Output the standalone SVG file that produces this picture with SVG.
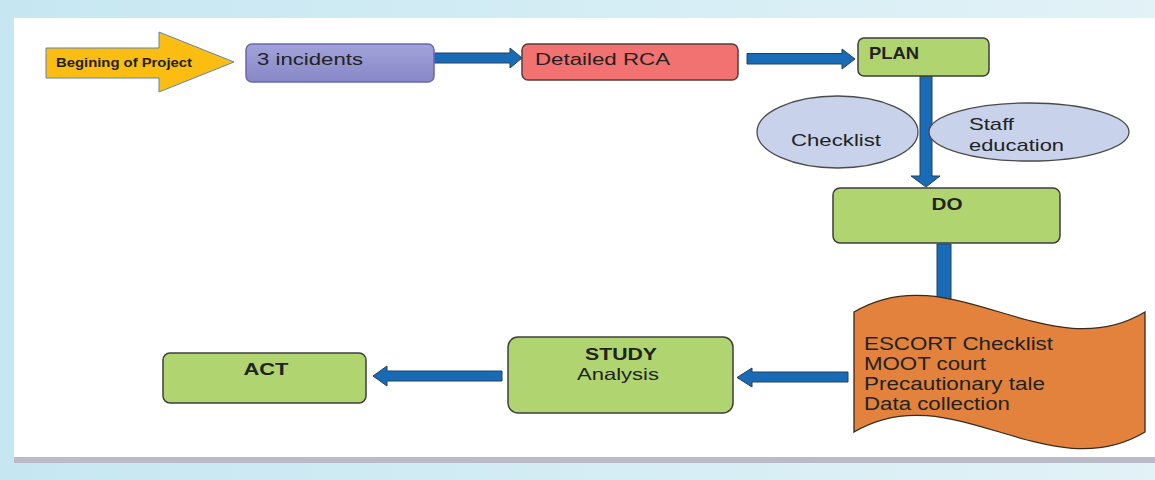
<svg xmlns="http://www.w3.org/2000/svg" width="1155" height="480" viewBox="0 0 1155 480">
  <defs>
    <linearGradient id="bgBlue" x1="0" y1="0" x2="1" y2="0">
      <stop offset="0" stop-color="#c6e7f2"/>
      <stop offset="1" stop-color="#e2f2f7"/>
    </linearGradient>
    <linearGradient id="purple" x1="0" y1="0" x2="0" y2="1">
      <stop offset="0" stop-color="#a2a2da"/>
      <stop offset="1" stop-color="#8787c6"/>
    </linearGradient>
    <style>
      .box { stroke-width: 1.5; }
      .green { fill: #b0d46f; stroke: #3e3e3e; }
      .oval { fill: #c8d3eb; stroke: #4a4a4a; stroke-width: 1.3; }
      .arrow { fill: #1a6bb6; stroke: #22405f; stroke-width: 1; stroke-linejoin: miter; }
      .t { font-family: "Liberation Sans", Arial, sans-serif; fill: #222222; }
      .b { font-weight: bold; }
    </style>
  </defs>

  <!-- slide backdrop -->
  <rect x="0" y="0" width="1155" height="480" fill="url(#bgBlue)"/>
  <rect x="14" y="18" width="1141" height="439" fill="#ffffff"/>
  <rect x="14" y="457" width="1141" height="6" fill="#b9bbc7"/>

  <!-- connectors -->
  <g id="connectors">
    <path class="arrow" d="M433,53 H510 V48 L522,58 L510,68 V63 H433 Z"/>
    <path class="arrow" d="M747,53.5 H842 V49 L855,59 L842,69 V64 H747 Z"/>
    <path class="arrow" d="M920,76 H932 V176 H940 L926,187 L911,176 H920 Z"/>
    <path class="arrow" d="M937,244 H951 V300 H937 Z"/>
    <path class="arrow" d="M848,372 H752 V368 L737,377.5 L752,387 V382 H848 Z"/>
    <path class="arrow" d="M502,371 H387 V366 L373,376 L387,386 V381 H502 Z"/>
  </g>

  <!-- start marker -->
  <g id="start">
    <path d="M46,48 H159 V32 L234,62 L159,92 V78 H46 Z" fill="#fcbd13" stroke="#5a86b8" stroke-width="1"/>
    <text class="t b" x="56" y="67" font-size="13" textLength="136" lengthAdjust="spacingAndGlyphs">Begining of Project</text>
  </g>

  <g id="incidents">
    <rect class="box" x="246" y="44" width="188" height="38" rx="6" fill="url(#purple)" stroke="#6767b2"/>
    <text class="t" x="257" y="65" font-size="16" textLength="106" lengthAdjust="spacingAndGlyphs">3 incidents</text>
  </g>

  <g id="rca">
    <rect class="box" x="522" y="44" width="216" height="36" rx="6" fill="#f27272" stroke="#5a3a3a"/>
    <text class="t" x="535" y="65" font-size="16" textLength="135" lengthAdjust="spacingAndGlyphs">Detailed RCA</text>
  </g>

  <g id="plan">
    <rect class="box green" x="858" y="38" width="131" height="38" rx="6"/>
    <text class="t b" x="869" y="59" font-size="16.5" textLength="50" lengthAdjust="spacingAndGlyphs">PLAN</text>
  </g>

  <g id="checklist">
    <ellipse class="oval" cx="837.5" cy="132" rx="80.5" ry="36"/>
    <text class="t" x="791" y="146" font-size="17" textLength="90" lengthAdjust="spacingAndGlyphs">Checklist</text>
  </g>

  <g id="staff-education">
    <ellipse class="oval" cx="1029" cy="132" rx="100" ry="29"/>
    <text class="t" x="969" y="130" font-size="17" textLength="45" lengthAdjust="spacingAndGlyphs">Staff</text>
    <text class="t" x="969" y="151" font-size="17" textLength="95" lengthAdjust="spacingAndGlyphs">education</text>
  </g>

  <g id="do">
    <rect class="box green" x="833" y="188" width="227" height="55" rx="7"/>
    <text class="t b" x="947" y="210" font-size="16.5" text-anchor="middle" textLength="31" lengthAdjust="spacingAndGlyphs">DO</text>
  </g>

  <g id="activities">
    <path d="M854,312 C951,254 1048,370 1145,312 V432 C1048,490 951,374 854,432 Z" fill="#e2823d" stroke="#3a2a1c" stroke-width="1.3"/>
    <text class="t" font-size="17.5" fill="#2a1c12">
      <tspan x="864" y="350" textLength="189" lengthAdjust="spacingAndGlyphs">ESCORT Checklist</tspan>
      <tspan x="864" y="370" textLength="122" lengthAdjust="spacingAndGlyphs">MOOT court</tspan>
      <tspan x="864" y="390" textLength="181" lengthAdjust="spacingAndGlyphs">Precautionary tale</tspan>
      <tspan x="864" y="410" textLength="146" lengthAdjust="spacingAndGlyphs">Data collection</tspan>
    </text>
  </g>

  <g id="study">
    <rect class="box green" x="508" y="337" width="225" height="76" rx="10"/>
    <text class="t b" x="621" y="360" font-size="16.5" text-anchor="middle" textLength="72" lengthAdjust="spacingAndGlyphs">STUDY</text>
    <text class="t" x="577" y="380" font-size="16.5" textLength="82" lengthAdjust="spacingAndGlyphs">Analysis</text>
  </g>

  <g id="act">
    <rect class="box green" x="163" y="353" width="203" height="50" rx="7"/>
    <text class="t b" x="266" y="375" font-size="17" text-anchor="middle" textLength="45" lengthAdjust="spacingAndGlyphs">ACT</text>
  </g>
</svg>
